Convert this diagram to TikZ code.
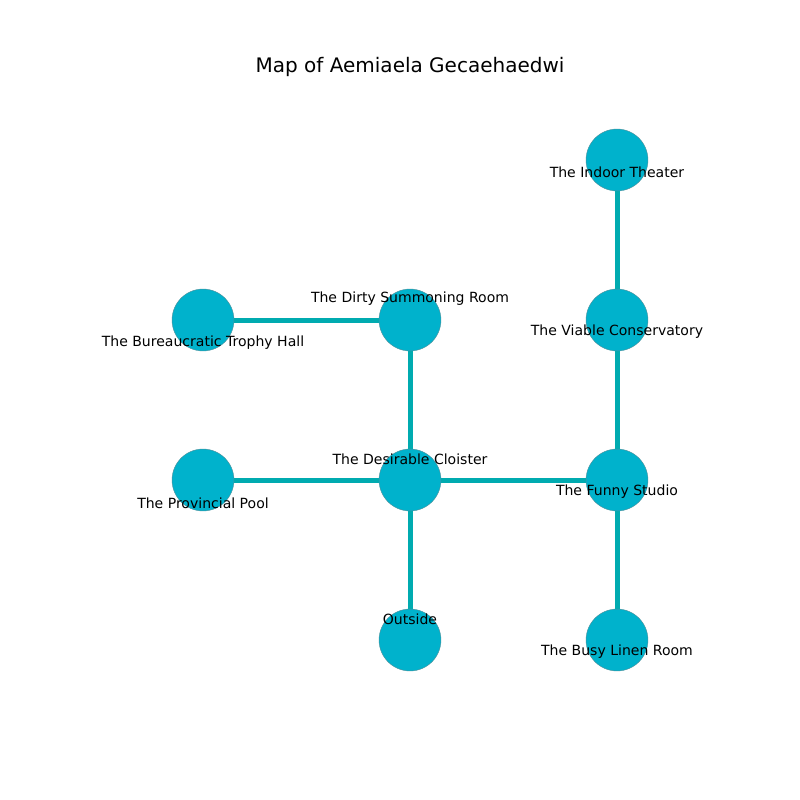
\documentclass[tikz,border=0pt]{standalone}
\usepackage{fontspec}
\setmainfont{DejaVu Sans}
\definecolor{nodefill}{HTML}{00B2CC}
\definecolor{edgecol}{HTML}{00ABB0}
\definecolor{nodeline}{HTML}{4F8F99}
\begin{document}
\begin{tikzpicture}[x=0.72pt,y=-0.72pt,
  room/.style={circle,fill=nodefill,draw=nodeline,line width=0.3pt,minimum size=44.6pt,inner sep=0pt},
  link/.style={draw=edgecol,line width=3.6pt},
  lbl/.style={font=\fontsize{10.1}{12}\selectfont,inner sep=0pt,anchor=center}]
\useasboundingbox (0,0) rectangle (800,800);
\node[font=\fontsize{14.4}{16}\selectfont] (title) at (410,67) {Map of Aemiaela Gecaehaedwi};
\coordinate (theater) at (617,160);
\coordinate (viable) at (617,320);
\coordinate (funny) at (617,480);
\coordinate (linen) at (617,640);
\coordinate (dirty) at (410,320);
\coordinate (cloister) at (410,480);
\coordinate (outside) at (410,640);
\coordinate (bureau) at (203,320);
\coordinate (pool) at (203,480);
\draw[link] (bureau) -- (dirty);
\draw[link] (dirty) -- (cloister);
\draw[link] (pool) -- (cloister);
\draw[link] (cloister) -- (funny);
\draw[link] (cloister) -- (outside);
\draw[link] (funny) -- (viable);
\draw[link] (viable) -- (theater);
\draw[link] (funny) -- (linen);
\foreach \n in {theater,viable,funny,linen,dirty,cloister,outside,bureau,pool}
  \node[room] (n\n) at (\n) {};
\node[lbl] (ltheater) at (617,172) {The Indoor Theater};
\node[lbl] (lviable) at (617,332) {The Viable Conservatory};
\node[lbl] (lfunny) at (617,492) {The Funny Studio};
\node[lbl] (llinen) at (617,652) {The Busy Linen Room};
\node[lbl] (ldirty) at (410,299) {The Dirty Summoning Room};
\node[lbl] (lcloister) at (410,459) {The Desirable Cloister};
\node[lbl] (loutside) at (410,619) {Outside};
\node[lbl] (lbureau) at (203,343) {The Bureaucratic Trophy Hall};
\node[lbl] (lpool) at (203,503) {The Provincial Pool};
\end{tikzpicture}
\end{document}
